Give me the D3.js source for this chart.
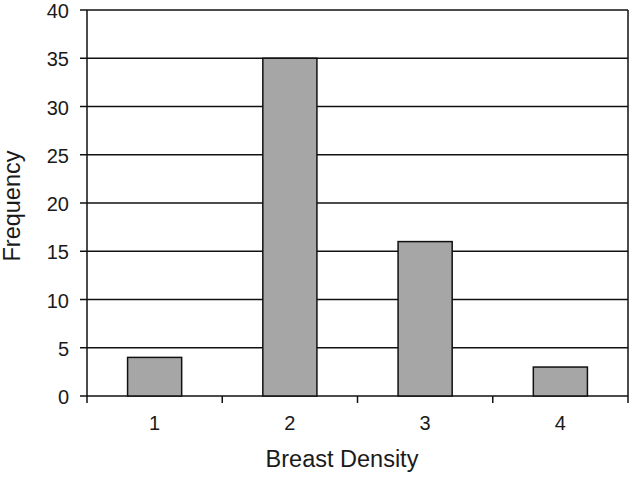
<!DOCTYPE html>
<html>
<head>
<meta charset="utf-8">
<script src="https://cdn.jsdelivr.net/npm/d3@7"></script>
<style>
  body { margin: 0; background: #fff; }
  text { font-family: "Liberation Sans", Arial, sans-serif; fill: #1a1a1a; }
</style>
</head>
<body>
<div id="chart"></div>
<script>
// data
var categories = ["1", "2", "3", "4"];
var frequency = [4, 35, 16, 3];
var yTicks = [0, 5, 10, 15, 20, 25, 30, 35, 40];

var W = 632, H = 478;
var plotLeft = 87, plotRight = 628, plotTop = 10, plotBottom = 396;

var svg = d3.select("#chart")
  .append("svg")
  .attr("width", W)
  .attr("height", H);

var x = d3.scaleBand()
  .domain(categories)
  .range([plotLeft, plotRight])
  .paddingInner(0.6)
  .paddingOuter(0.3);

var y = d3.scaleLinear()
  .domain([0, 40])
  .range([plotBottom, plotTop]);

// horizontal grid lines
svg.append("g")
  .selectAll("line")
  .data(yTicks)
  .enter()
  .append("line")
  .attr("x1", plotLeft - 7)
  .attr("x2", plotRight)
  .attr("y1", d => y(d))
  .attr("y2", d => y(d))
  .attr("stroke", "#111")
  .attr("stroke-width", 1.5);

// y tick labels
svg.append("g")
  .selectAll("text")
  .data(yTicks)
  .enter()
  .append("text")
  .attr("x", 69)
  .attr("y", d => y(d))
  .attr("dy", "0.4em")
  .attr("text-anchor", "end")
  .style("font-size", "20px")
  .text(d => d);

// vertical lines: y axis, category separators, right border
var step = x.step();
var sep = d3.range(categories.length + 1).map(i => plotLeft + i * step);
svg.append("g")
  .selectAll("line")
  .data(sep)
  .enter()
  .append("line")
  .attr("x1", d => d)
  .attr("x2", d => d)
  .attr("y1", (d, i) => (i == 0 || i == sep.length - 1) ? plotTop : plotBottom)
  .attr("y2", plotBottom + 7)
  .attr("stroke", "#111")
  .attr("stroke-width", 1.5);

// bars
svg.append("g")
  .selectAll("rect")
  .data(frequency)
  .enter()
  .append("rect")
  .attr("x", (d, i) => x(categories[i]))
  .attr("y", d => y(d))
  .attr("width", x.bandwidth())
  .attr("height", d => plotBottom - y(d))
  .attr("fill", "#a6a6a6")
  .attr("stroke", "#111")
  .attr("stroke-width", 1.5);

// x tick labels
svg.append("g")
  .selectAll("text")
  .data(categories)
  .enter()
  .append("text")
  .attr("x", d => x(d) + x.bandwidth() / 2)
  .attr("y", 430)
  .attr("text-anchor", "middle")
  .style("font-size", "20px")
  .text(d => d);

// axis titles
svg.append("text")
  .attr("x", 342)
  .attr("y", 467)
  .attr("text-anchor", "middle")
  .style("font-size", "23.5px")
  .text("Breast Density");

svg.append("text")
  .attr("transform", "translate(20, 206) rotate(-90)")
  .attr("text-anchor", "middle")
  .style("font-size", "23.5px")
  .text("Frequency");
</script>
</body>
</html>
